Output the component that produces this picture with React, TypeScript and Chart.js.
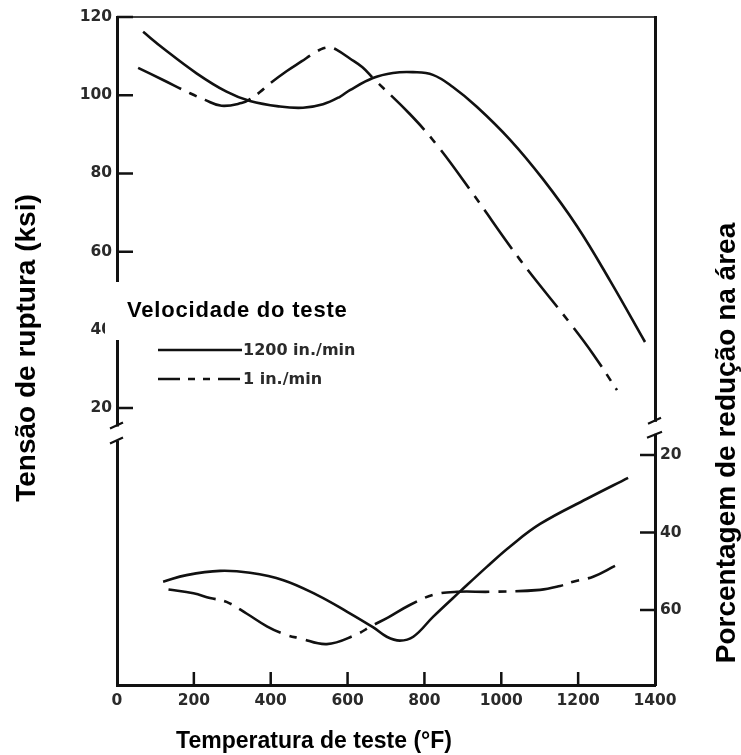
import React, { useEffect, useRef } from 'react';
import { Chart, registerables } from 'chart.js';

Chart.register(...registerables);

// ---------- Data ----------
// Upper panel: tensile (rupture) strength, ksi  — left axis
const TEMP_STRENGTH_FAST = [68, 120, 207, 285, 346, 424, 484, 536, 580, 606, 666, 718, 770, 822, 874, 937, 1023, 1108, 1197, 1283, 1374];
const KSI_FAST = [116.2, 112.0, 105.6, 100.9, 98.5, 97.1, 96.8, 97.7, 99.6, 101.3, 104.4, 105.7, 105.9, 105.2, 102.1, 97.0, 88.6, 78.6, 66.5, 52.6, 36.9];

const TEMP_STRENGTH_SLOW = [55, 120, 190, 229, 272, 324, 346, 372, 398, 442, 481, 510, 537, 555, 572, 606, 638, 666, 762, 833, 919, 1049, 1179, 1239, 1301];
const KSI_SLOW = [107.0, 103.9, 100.5, 98.8, 97.3, 98.0, 99.0, 100.8, 103.0, 106.2, 108.7, 110.6, 112.0, 112.2, 111.6, 109.4, 107.2, 104.4, 95.2, 87.2, 75.8, 57.9, 41.7, 33.8, 24.6];

// Lower panel: reduction in area, %  — right axis (inverted)
const TEMP_RA_FAST = [120, 181, 268, 346, 433, 520, 598, 667, 702, 736, 771, 823, 893, 963, 1023, 1101, 1223, 1330];
const RA_FAST = [52.7, 51.0, 49.9, 50.4, 52.3, 56.1, 60.4, 64.5, 66.9, 67.9, 66.9, 61.7, 55.2, 48.8, 43.6, 37.8, 31.3, 25.9];

const TEMP_RA_SLOW = [134, 199, 242, 285, 337, 390, 437, 476, 546, 619, 663, 706, 762, 823, 885, 971, 1101, 1153, 1187, 1239, 1296];
const RA_SLOW = [54.7, 55.7, 56.9, 57.9, 60.9, 64.2, 66.3, 67.3, 68.8, 66.5, 64.1, 61.9, 58.7, 56.1, 55.3, 55.3, 54.8, 53.8, 52.7, 51.4, 48.6];

const SERIES_LABELS = ['1200 in./min', '1 in./min'];
const LEGEND_TITLE = 'Velocidade do teste';
const LEFT_TITLE = 'Tensão de ruptura (ksi)';
const RIGHT_TITLE = 'Porcentagem de redução na área';
const BOTTOM_TITLE = 'Temperatura de teste (°F)';

const X_MIN = 0;
const X_MAX = 1400;
const X_STEP = 200;
const KSI_TICKS_MIN = 20;
const RA_TICKS = [20, 40, 60];
const LEFT_BREAK_VALUE = 13.5; // ksi, where left axis is broken
const RIGHT_BREAK_VALUE = 13; // %, where right axis is broken

// ---------- Styles / layout ----------
const INK = '#111';
const TICK_COLOR = '#2a2a2a';
const DASH = [48, 9, 8, 9];
const TICK_FONT = { family: '"DejaVu Sans", sans-serif', weight: 'bold' as const, size: 15.5 };

const pts = (xs: number[], ys: number[]) => xs.map((x, i) => ({ x, y: ys[i] }));

const tickMarksPlugin = {
  id: 'inwardTicks',
  afterDatasetsDraw(chart: any) {
    const { ctx, chartArea: ca, scales } = chart;
    ctx.save();
    ctx.strokeStyle = INK;
    ctx.lineWidth = 2.5;
    ctx.beginPath();
    scales.x.ticks.forEach((t: any) => {
      if (t.value <= X_MIN || t.value >= X_MAX) return;
      const px = scales.x.getPixelForValue(t.value);
      ctx.moveTo(px, ca.bottom);
      ctx.lineTo(px, ca.bottom - 13);
    });
    scales.y.ticks.forEach((t: any) => {
      const py = scales.y.getPixelForValue(t.value);
      ctx.moveTo(ca.left, py);
      ctx.lineTo(ca.left + 16, py);
    });
    scales.y2.ticks.forEach((t: any) => {
      const py = scales.y2.getPixelForValue(t.value);
      ctx.moveTo(ca.right, py);
      ctx.lineTo(ca.right - 15, py);
    });
    ctx.stroke();
    ctx.restore();
  },
};

const decorPlugin = {
  id: 'decor',
  afterDraw(chart: any) {
    const { ctx, chartArea: ca, scales } = chart;
    ctx.save();

    // axis breaks
    const lb = scales.y.getPixelForValue(LEFT_BREAK_VALUE);
    const rb = scales.y2.getPixelForValue(RIGHT_BREAK_VALUE);
    ctx.fillStyle = '#fff';
    ctx.fillRect(ca.left - 4, lb - 7, 8, 14);
    ctx.fillRect(ca.right - 4, rb - 6, 8, 12);
    ctx.strokeStyle = INK;
    ctx.lineWidth = 2.2;
    ctx.beginPath();
    ctx.moveTo(ca.left - 7, lb - 5);
    ctx.lineTo(ca.left + 6, lb - 11);
    ctx.moveTo(ca.left - 7, lb + 10);
    ctx.lineTo(ca.left + 6, lb + 4);
    ctx.moveTo(ca.right - 7, rb - 4);
    ctx.lineTo(ca.right + 6, rb - 10);
    ctx.moveTo(ca.right - 8, rb + 10);
    ctx.lineTo(ca.right + 7, rb + 4);
    ctx.stroke();

    // axis titles
    ctx.fillStyle = '#000';
    ctx.textAlign = 'center';
    ctx.textBaseline = 'alphabetic';
    ctx.font = 'bold 28px "Liberation Sans", Arial, sans-serif';
    ctx.save();
    ctx.translate(ca.left - 82, (ca.top + ca.bottom) / 2 - 3);
    ctx.rotate(-Math.PI / 2);
    ctx.fillText(LEFT_TITLE, 0, 0);
    ctx.restore();

    ctx.save();
    ctx.font = 'bold 28px "Liberation Sans", Arial, sans-serif';
    ctx.translate(ca.right + 80, (ca.top + ca.bottom) / 2 + 92);
    ctx.rotate(-Math.PI / 2);
    ctx.fillText(RIGHT_TITLE, 0, 0);
    ctx.restore();

    ctx.font = 'bold 23px "Liberation Sans", Arial, sans-serif';
    ctx.fillText(BOTTOM_TITLE, ca.left + 197, ca.bottom + 63);

    // legend
    const bx = ca.left - 12;
    const by = ca.top + 265;
    ctx.fillStyle = '#fff';
    ctx.fillRect(bx, by, 255, 58);
    ctx.fillStyle = '#000';
    ctx.textAlign = 'left';
    ctx.font = 'bold 22px "Liberation Sans", Arial, sans-serif';
    (ctx as any).letterSpacing = '0.8px';
    ctx.fillText(LEGEND_TITLE, ca.left + 10, by + 35);
    (ctx as any).letterSpacing = '0px';

    const ds = chart.data.datasets;
    [0, 1].forEach((i) => {
      const y = by + 68 + i * 29;
      ctx.strokeStyle = ds[i].borderColor;
      ctx.lineWidth = 2.6;
      ctx.setLineDash(i === 0 ? [] : [22, 8, 7, 8, 7, 8]);
      ctx.beginPath();
      ctx.moveTo(ca.left + 41, y);
      ctx.lineTo(ca.left + 125, y);
      ctx.stroke();
      ctx.setLineDash([]);
      ctx.fillStyle = TICK_COLOR;
      ctx.textBaseline = 'middle';
      ctx.font = 'bold 16px "DejaVu Sans", sans-serif';
      ctx.fillText(ds[i].label, ca.left + 126, y + 1);
    });
    ctx.restore();
  },
};

export default function App() {
  const ref = useRef<HTMLCanvasElement | null>(null);

  useEffect(() => {
    if (!ref.current) return;
    const lineDs = (label: string, data: any[], axis: string, dashed: boolean) => ({
      label,
      data,
      yAxisID: axis,
      borderColor: INK,
      borderWidth: 2.6,
      borderDash: dashed ? DASH : [],
      pointRadius: 0,
      fill: false,
      tension: 0.4,
    });

    const chart = new Chart(ref.current, {
      type: 'line',
      data: {
        datasets: [
          lineDs(SERIES_LABELS[0], pts(TEMP_STRENGTH_FAST, KSI_FAST), 'y', false),
          lineDs(SERIES_LABELS[1], pts(TEMP_STRENGTH_SLOW, KSI_SLOW), 'y', true),
          lineDs(SERIES_LABELS[0], pts(TEMP_RA_FAST, RA_FAST), 'y2', false),
          lineDs(SERIES_LABELS[1], pts(TEMP_RA_SLOW, RA_SLOW), 'y2', true),
        ],
      },
      options: {
        animation: false,
        responsive: true,
        maintainAspectRatio: false,
        devicePixelRatio: 1,
        layout: { padding: 0 },
        plugins: {
          legend: { display: false },
          tooltip: { enabled: false },
        },
        scales: {
          x: {
            type: 'linear',
            position: 'bottom',
            min: X_MIN,
            max: X_MAX,
            ticks: {
              stepSize: X_STEP, padding: 7, color: TICK_COLOR, font: TICK_FONT, maxRotation: 0, autoSkip: false,
              callback: (v: any) => String(v),
            },
            grid: { display: false, drawTicks: false },
            border: { display: true, color: INK, width: 3 },
            afterFit: (s: any) => { s.height = 70; },
          },
          xTop: {
            type: 'linear',
            position: 'top',
            min: X_MIN,
            max: X_MAX,
            ticks: { display: false },
            grid: { display: false, drawTicks: false },
            border: { display: true, color: '#444', width: 2 },
            afterFit: (s: any) => { s.height = 17; },
          },
          y: {
            type: 'linear',
            position: 'left',
            min: -50.8,
            max: 120,
            ticks: { stepSize: 20, padding: 5, color: TICK_COLOR, font: TICK_FONT },
            afterBuildTicks: (s: any) => { s.ticks = s.ticks.filter((t: any) => t.value >= KSI_TICKS_MIN); },
            grid: { display: false, drawTicks: false },
            border: { display: true, color: INK, width: 3 },
            afterFit: (s: any) => { s.width = 117; },
          },
          y2: {
            type: 'linear',
            position: 'right',
            reverse: true,
            min: -93,
            max: 79.35,
            ticks: { stepSize: 20, padding: 5, color: TICK_COLOR, font: TICK_FONT },
            afterBuildTicks: (s: any) => { s.ticks = s.ticks.filter((t: any) => RA_TICKS.includes(Math.round(t.value))); },
            grid: { display: false, drawTicks: false },
            border: { display: true, color: INK, width: 3 },
            afterFit: (s: any) => { s.width = 86; },
          },
        },
      },
      plugins: [tickMarksPlugin, decorPlugin],
    } as any);

    return () => chart.destroy();
  }, []);

  return (
    <div style={{ position: 'absolute', left: 0, top: 0, width: 741, height: 755, background: '#fff' }}>
      <canvas ref={ref} />
    </div>
  );
}
